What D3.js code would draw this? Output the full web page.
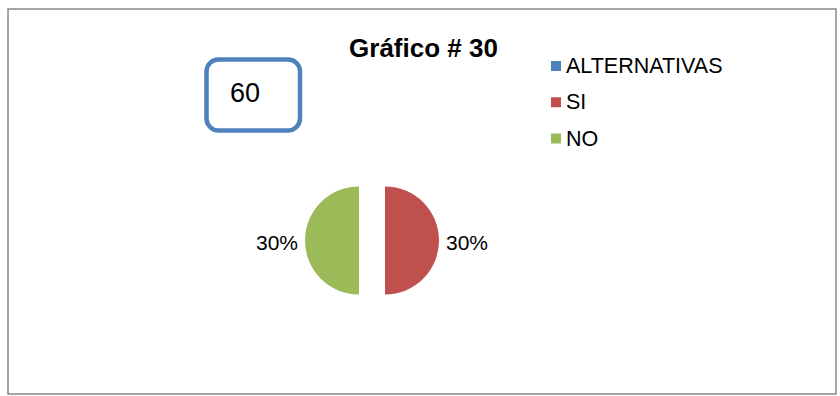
<!DOCTYPE html>
<html>
<head>
<meta charset="utf-8">
<script src="https://cdn.jsdelivr.net/npm/d3@7"></script>
<style>
  body { margin: 0; background: #fff; }
  text { font-family: "Liberation Sans", Arial, sans-serif; fill: #000; }
</style>
</head>
<body>
<svg id="chart" width="840" height="396"></svg>
<script>
var categories = ["ALTERNATIVAS", "SI", "NO"];
var values = [0, 30, 30];
var colors = ["#4F81BD", "#C0504D", "#9BBB59"];
var title = "Gráfico # 30";
var boxLabel = "60";

var radius = 54, explode = 13;
var cx = 372, cy = 240.5;

var svg = d3.select("#chart");

// outer frame
svg.append("rect")
    .attr("x", 8).attr("y", 9)
    .attr("width", 828).attr("height", 385)
    .attr("fill", "#fff")
    .attr("stroke", "#888")
    .attr("stroke-width", 1.5);

svg.append("text")
    .attr("x", 423.5).attr("y", 57)
    .attr("text-anchor", "middle")
    .style("font-size", "26px")
    .style("font-weight", "bold")
    .text(title);

// rounded box with "60"
svg.append("rect")
    .attr("x", 206.5).attr("y", 59.5)
    .attr("width", 93.5).attr("height", 71)
    .attr("rx", 12).attr("ry", 12)
    .attr("fill", "#fff")
    .attr("stroke", "#4F81BD")
    .attr("stroke-width", 4.5);
svg.append("text")
    .attr("x", 230).attr("y", 102)
    .style("font-size", "27px")
    .text(boxLabel);

// pie
var data = categories.map(function(c, i) { return {name: c, value: values[i], color: colors[i]}; });
var pie = d3.pie().sort(null).value(function(d) { return d.value; });
var arc = d3.arc().innerRadius(0).outerRadius(radius);
var labelArc = d3.arc().innerRadius(radius + 7).outerRadius(radius + 7);

var g = svg.append("g").attr("transform", "translate(" + cx + "," + cy + ")");
var slices = g.selectAll(".slice")
    .data(pie(data).filter(function(d) { return d.data.value > 0; }))
    .enter().append("g")
    .attr("class", "slice")
    .attr("transform", function(d) {
        var a = (d.startAngle + d.endAngle) / 2;
        return "translate(" + (Math.sin(a) * explode) + "," + (-Math.cos(a) * explode) + ")";
    });

slices.append("path")
    .attr("d", arc)
    .attr("fill", function(d) { return d.data.color; });

slices.append("text")
    .attr("x", function(d) { return labelArc.centroid(d)[0]; })
    .attr("y", function(d) { return labelArc.centroid(d)[1] + 9.5; })
    .attr("text-anchor", function(d) {
        var a = (d.startAngle + d.endAngle) / 2;
        return a < Math.PI ? "start" : "end";
    })
    .style("font-size", "21px")
    .text(function(d) { return d.data.value + "%"; });

// legend
var legend = svg.append("g").attr("transform", "translate(551,0)");
var rowY = d3.scalePoint().domain(categories).range([66, 138.5]);
var rows = legend.selectAll(".row")
    .data(data)
    .enter().append("g")
    .attr("transform", function(d) { return "translate(0," + rowY(d.name) + ")"; });
rows.append("rect")
    .attr("x", 0).attr("y", -5)
    .attr("width", 10).attr("height", 10)
    .attr("fill", function(d) { return d.color; });
rows.append("text")
    .attr("x", 15).attr("y", 7)
    .style("font-size", "21.5px")
    .text(function(d) { return d.name; });
</script>
</body>
</html>
